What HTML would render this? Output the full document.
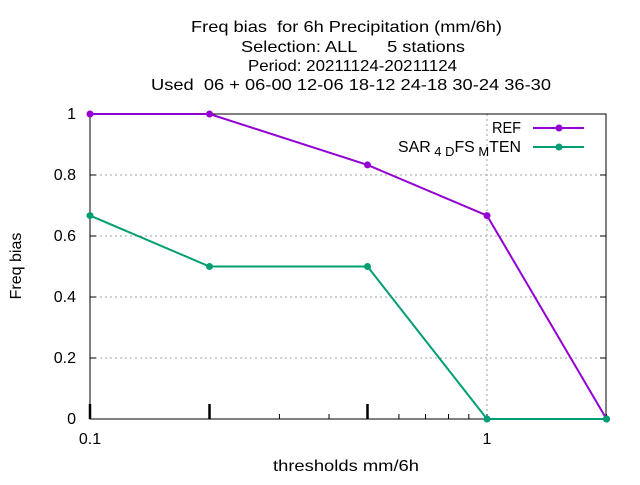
<!DOCTYPE html>
<html><head><meta charset="utf-8"><style>
body{margin:0;background:#fff;}
svg text{font-family:"Liberation Sans",sans-serif;font-size:16px;fill:#000;}
</style></head><body>
<svg width="640" height="480">
<g>
<text x="191" y="32" textLength="311" lengthAdjust="spacingAndGlyphs" xml:space="preserve">Freq bias  for 6h Precipitation (mm/6h)</text>
<text x="241" y="52" textLength="224" lengthAdjust="spacingAndGlyphs" xml:space="preserve">Selection: ALL      5 stations</text>
<text x="248" y="71" textLength="209" lengthAdjust="spacingAndGlyphs">Period: 20211124-20211124</text>
<text x="151" y="90" textLength="400" lengthAdjust="spacingAndGlyphs" xml:space="preserve">Used  06 + 06-00 12-06 18-12 24-18 30-24 36-30</text>
</g>
<text x="21" y="266" text-anchor="middle" transform="rotate(-90 21 266)">Freq bias</text>
<text x="273" y="471" textLength="146" lengthAdjust="spacingAndGlyphs">thresholds mm/6h</text>
<g id="grid"></g><g id="axes"></g><g id="series"></g>
<g>
<text x="492" y="133" textLength="29" lengthAdjust="spacingAndGlyphs">REF</text>
<line x1="533" y1="128" x2="584" y2="128" stroke="#9400d3" stroke-width="2"/>
<circle cx="559" cy="128" r="3.5" fill="#9400d3"/>
<text x="398" y="152" textLength="123" lengthAdjust="spacingAndGlyphs">SAR<tspan font-size="13" dy="4"> 4 D</tspan><tspan dy="-4">FS</tspan><tspan font-size="13" dy="4"> M</tspan><tspan dy="-4">TEN</tspan></text>
<line x1="533" y1="147" x2="584" y2="147" stroke="#009e73" stroke-width="2"/>
<circle cx="559" cy="147" r="3.5" fill="#009e73"/>
</g>
</svg>
<script>
const xValues=[0.1,0.2,0.5,1,2];
const refValues=[1,1,0.833,0.667,0];
const sarValues=[0.667,0.5,0.5,0,0];
const yTicks=[0,0.2,0.4,0.6,0.8,1];
const yTickLabels=["0","0.2","0.4","0.6","0.8","1"];
const xTickLabels=[[0.1,"0.1"],[1,"1"]];
const NS="http://www.w3.org/2000/svg";
const L=90,R=606,T=114,B=419;
const xs=v=>L+(Math.log10(v)+1)*397;
const ys=v=>B-v*(B-T);
function mk(tag,attrs,parent){const e=document.createElementNS(NS,tag);for(const k in attrs)e.setAttribute(k,attrs[k]);document.getElementById(parent).appendChild(e);return e;}
yTicks.forEach((t,i)=>{
 if(t>0&&t<1){const g=mk('line',{x1:L,x2:R,y1:ys(t),y2:ys(t),stroke:'#a0a0a0','stroke-dasharray':'2,3','stroke-width':1},'grid');
 
 }
 mk('line',{x1:L,x2:L+6,y1:ys(t),y2:ys(t),stroke:'#000'},'axes');
 mk('line',{x1:R-6,x2:R,y1:ys(t),y2:ys(t),stroke:'#000'},'axes');
 const tx=mk('text',{x:L-14,y:ys(t)+5,'text-anchor':'end'},'axes');tx.textContent=yTickLabels[i];
 
 
});
const vg=mk('line',{x1:xs(1),x2:xs(1),y1:T,y2:B,stroke:'#a0a0a0','stroke-dasharray':'2,3'},'grid');


[0.3,0.4,0.6,0.7,0.8,0.9,1,2].forEach(v=>{mk('line',{x1:xs(v),x2:xs(v),y1:B-5,y2:B,stroke:'#000'},'axes');});
[0.1,0.2,0.5].forEach(v=>{mk('line',{x1:xs(v),x2:xs(v),y1:B-15,y2:B,stroke:'#000','stroke-width':2.5},'axes');});
xTickLabels.forEach(([v,s])=>{const t=mk('text',{x:xs(v),y:B+25,'text-anchor':'middle'},'axes');t.textContent=s;
 
 });
const fr=mk('rect',{x:L,y:T,width:R-L,height:B-T,fill:'none',stroke:'#000'},'axes');


function series(vals,col,name){
 const p=mk('polyline',{points:xValues.map((x,i)=>xs(x)+','+ys(vals[i])).join(' '),fill:'none',stroke:col,'stroke-width':2},'series');
 
 
 xValues.forEach((x,i)=>{const c=mk('circle',{cx:xs(x),cy:ys(vals[i]),r:3.5,fill:col},'series');
 
 });
}
series(refValues,'#9400d3','ref');
series(sarValues,'#009e73','sar');
</script>
</body></html>
